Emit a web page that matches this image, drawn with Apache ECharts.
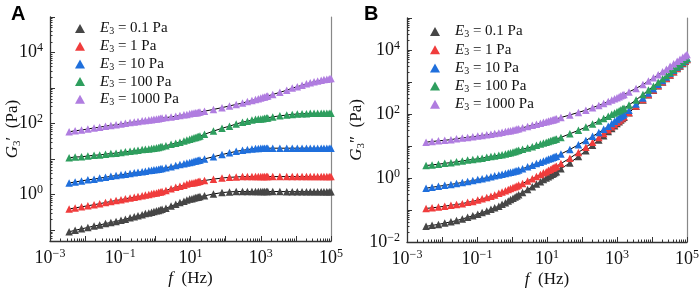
<!DOCTYPE html>
<html>
<head>
<meta charset="utf-8">
<script src="https://cdn.jsdelivr.net/npm/echarts@6/dist/echarts.min.js"></script>
<style>
  html, body { margin: 0; padding: 0; background: #fff; }
  #chart { width: 700px; height: 290px; }
</style>
</head>
<body>
<div id="chart"></div>
<script>
// frequency sweep (Hz), shared by both panels
const freq = [
  0.0035, 0.0052, 0.0079, 0.012, 0.018, 0.026, 0.038, 0.054, 0.076, 0.105, 0.14, 0.19,
  0.25, 0.32, 0.42, 0.52, 0.65, 0.78, 0.91, 1.07, 1.23, 1.38, 1.55,
  2.0, 2.8, 3.8, 5.0, 6.5, 7.9, 9.5, 11, 12.6, 14.1, 15.5, 17, 18.6,
  25, 45, 79, 129, 200, 302, 417, 562, 708, 851, 1000, 1148, 1288, 1445, 1585,
  2200, 3500, 5500, 7900, 11000, 15000, 20000, 25700, 33000, 41700, 52500, 63000, 76000, 89000, 100000
];

// A: storage modulus G3' (Pa)
const gpA01 = [
  0.091, 0.100, 0.110, 0.120, 0.132, 0.141, 0.155, 0.166, 0.178, 0.191, 0.204, 0.224,
  0.240, 0.257, 0.275, 0.295, 0.309, 0.324, 0.339, 0.355, 0.363, 0.380, 0.389,
  0.417, 0.479, 0.537, 0.603, 0.661, 0.708, 0.759, 0.776, 0.813, 0.832, 0.851, 0.871, 0.891,
  0.933, 1.05, 1.15, 1.20, 1.23, 1.23, 1.23, 1.23, 1.23, 1.23, 1.23, 1.23, 1.23, 1.23, 1.23,
  1.23, 1.23, 1.22, 1.22, 1.22, 1.22, 1.22, 1.22, 1.22, 1.22, 1.22, 1.22, 1.22, 1.22, 1.22
];
const gpA1 = [
  0.398, 0.427, 0.457, 0.490, 0.525, 0.562, 0.603, 0.646, 0.692, 0.724, 0.776, 0.813,
  0.851, 0.891, 0.933, 0.977, 1.02, 1.07, 1.10, 1.12, 1.17, 1.20, 1.23,
  1.32, 1.48, 1.62, 1.74, 1.86, 2.00, 2.09, 2.14, 2.19, 2.24, 2.29, 2.34, 2.40,
  2.51, 2.75, 2.95, 3.09, 3.16, 3.24, 3.24, 3.24, 3.24, 3.24, 3.24, 3.24, 3.24, 3.24, 3.24,
  3.24, 3.24, 3.24, 3.24, 3.24, 3.24, 3.24, 3.24, 3.24, 3.24, 3.24, 3.24, 3.24, 3.24, 3.24
];
const gpA10 = [
  2.14, 2.29, 2.45, 2.63, 2.75, 2.95, 3.09, 3.31, 3.47, 3.63, 3.80, 3.98,
  4.17, 4.27, 4.47, 4.57, 4.79, 4.90, 5.01, 5.13, 5.25, 5.37, 5.50,
  5.75, 6.17, 6.61, 7.08, 7.41, 7.76, 8.13, 8.32, 8.71, 8.91, 9.12, 9.33, 9.55,
  10.2, 11.7, 13.5, 15.1, 16.6, 17.8, 18.6, 19.5, 20.0, 20.0, 20.4, 20.4, 20.4, 20.4, 20.4,
  20.4, 20.4, 20.4, 20.4, 20.4, 20.4, 20.4, 20.4, 20.4, 20.4, 20.4, 20.4, 20.4, 20.4, 20.4
];
const gpA100 = [
  11.0, 11.5, 11.7, 12.3, 12.9, 13.2, 13.8, 14.5, 14.8, 15.5, 16.2, 16.6,
  17.4, 17.8, 18.6, 19.1, 19.5, 20.0, 20.4, 20.9, 21.4, 22.4, 22.9,
  24.0, 26.3, 28.2, 30.2, 32.4, 34.7, 36.3, 38.0, 39.8, 40.7, 42.7, 43.7, 44.7,
  50.1, 61.7, 74.1, 85.1, 97.7, 110, 117, 126, 132, 135, 135, 138, 141, 145, 145,
  155, 166, 174, 182, 186, 191, 191, 195, 195, 195, 195, 195, 195, 195, 195
];
const gpA1000 = [
  58.9, 63.1, 66.1, 70.8, 75.9, 79.4, 85.1, 89.1, 93.3, 97.7, 102, 107,
  112, 115, 120, 123, 126, 129, 132, 135, 138, 141, 145,
  148, 155, 162, 170, 178, 182, 191, 195, 200, 204, 204, 209, 214,
  224, 251, 282, 316, 347, 380, 417, 447, 479, 501, 525, 550, 562, 589, 603,
  661, 759, 871, 1000, 1096, 1202, 1318, 1413, 1514, 1585, 1660, 1738, 1778, 1820, 1862
];

// B: loss modulus G3'' (Pa)
const gppB01 = [
  0.0309, 0.0331, 0.0355, 0.0389, 0.0427, 0.0468, 0.0525, 0.0589, 0.0661, 0.0741, 0.0832, 0.0933,
  0.105, 0.117, 0.132, 0.151, 0.170, 0.191, 0.214, 0.234, 0.257, 0.275, 0.302,
  0.355, 0.437, 0.537, 0.646, 0.759, 0.891, 1.00, 1.10, 1.20, 1.32, 1.38, 1.48, 1.58,
  1.95, 2.95, 4.68, 7.08, 10.5, 15.5, 20.9, 28.2, 35.5, 42.7, 50.1, 57.5, 64.6, 72.4, 79.4,
  110, 174, 275, 398, 550, 759, 1000, 1288, 1660, 2089, 2630, 3162, 3802, 4467, 5012
];
const gppB1 = [
  0.112, 0.117, 0.123, 0.132, 0.141, 0.148, 0.158, 0.174, 0.186, 0.204, 0.224, 0.245,
  0.269, 0.295, 0.331, 0.363, 0.398, 0.437, 0.468, 0.501, 0.537, 0.562, 0.603,
  0.676, 0.813, 0.955, 1.12, 1.29, 1.45, 1.58, 1.74, 1.86, 2.00, 2.09, 2.24, 2.34,
  2.82, 4.17, 6.31, 9.12, 13.2, 18.6, 24.5, 32.4, 39.8, 46.8, 55.0, 61.7, 69.2, 75.9, 83.2,
  112, 178, 282, 407, 562, 776, 1023, 1318, 1698, 2138, 2692, 3236, 3890, 4571, 5129
];
const gppB10 = [
  0.479, 0.513, 0.550, 0.589, 0.631, 0.676, 0.724, 0.776, 0.832, 0.891, 0.955, 1.02,
  1.10, 1.17, 1.23, 1.32, 1.38, 1.45, 1.51, 1.58, 1.66, 1.70, 1.78,
  1.95, 2.24, 2.51, 2.82, 3.09, 3.39, 3.63, 3.89, 4.07, 4.27, 4.47, 4.68, 4.79,
  5.62, 7.76, 11.0, 14.8, 20.0, 26.3, 33.1, 41.7, 50.1, 58.9, 67.6, 75.9, 83.2, 91.2, 100,
  132, 204, 316, 457, 617, 851, 1122, 1445, 1862, 2344, 2884, 3467, 4169, 4898, 5495
];
const gppB100 = [
  2.45, 2.57, 2.69, 2.88, 3.02, 3.24, 3.39, 3.63, 3.80, 3.98, 4.17, 4.47,
  4.68, 4.90, 5.13, 5.37, 5.62, 5.89, 6.17, 6.46, 6.76, 7.08, 7.41,
  7.94, 8.71, 9.55, 10.5, 11.5, 12.3, 13.2, 13.8, 14.5, 15.1, 15.5, 16.2, 16.6,
  18.6, 24.0, 30.9, 38.9, 49.0, 60.3, 72.4, 85.1, 97.7, 107, 117, 126, 135, 145, 151,
  191, 275, 407, 562, 741, 977, 1259, 1585, 1995, 2455, 3020, 3631, 4266, 5012, 5623
];
const gppB1000 = [
  13.2, 13.8, 14.5, 15.1, 15.8, 17.0, 17.8, 18.6, 19.5, 20.4, 21.4, 22.4,
  23.4, 24.5, 25.7, 26.9, 28.2, 29.5, 30.2, 31.6, 32.4, 33.9, 34.7,
  37.2, 40.7, 44.7, 47.9, 51.3, 55.0, 57.5, 60.3, 63.1, 64.6, 66.1, 69.2, 70.8,
  77.6, 93.3, 112, 132, 158, 186, 214, 245, 275, 302, 324, 347, 372, 389, 407,
  490, 631, 832, 1072, 1349, 1698, 2089, 2512, 3090, 3715, 4467, 5129, 5888, 6607, 7244
];

const seriesNames = ['0.1 Pa', '1 Pa', '10 Pa', '100 Pa', '1000 Pa'];
const colors = ['#464646', '#f03c3c', '#1f6fdc', '#2e9e5e', '#b07de0'];

// ticks
const xMajorTicks = [1e-3, 1e-2, 1e-1, 1, 10, 100, 1e3, 1e4, 1e5];
const xLabelTicks = [1e-3, 1e-1, 10, 1e3, 1e5];
const yMajorTicksA = [0.1, 1, 10, 100, 1e3, 1e4, 1e5];
const yLabelTicksA = [1, 100, 1e4];
const yMajorTicksB = [0.01, 0.1, 1, 10, 100, 1e3, 1e4, 1e5];
const yLabelTicksB = [0.01, 1, 100, 1e4];

const serif = "'Liberation Serif', 'Times New Roman', serif";
const ink = '#111';
const axisInk = '#333';

// 2..9 x 10^n between lo and hi
const minorTicks = (lo, hi) => {
  const out = [];
  for (let n = -3; n <= 5; n++) {
    for (let k = 2; k <= 9; k++) {
      const v = k * Math.pow(10, n);
      if (v > lo && v < hi) out.push(v);
    }
  }
  return out;
};

const powLabel = (v) => {
  const e = Math.round(Math.log10(v));
  return '{b|10}{s|' + (e < 0 ? '\u2212' + (-e) : e) + '}';
};
const powRich = {
  b: { fontFamily: serif, fontSize: 18, lineHeight: 21, color: ink },
  s: { fontFamily: serif, fontSize: 12, lineHeight: 13, verticalAlign: 'top', color: ink }
};
const nameRich = {
  i: { fontFamily: serif, fontSize: 17, fontStyle: 'italic', lineHeight: 20, color: ink },
  s: { fontFamily: serif, fontSize: 11, lineHeight: 10, verticalAlign: 'bottom', color: ink },
  t: { fontFamily: serif, fontSize: 17, lineHeight: 20, color: ink }
};
const legendRich = {
  g: { width: 10 },
  e: { fontFamily: serif, fontSize: 15, fontStyle: 'italic', lineHeight: 16, color: ink },
  s: { fontFamily: serif, fontSize: 10, lineHeight: 8, verticalAlign: 'bottom', color: ink },
  t: { fontFamily: serif, fontSize: 15, lineHeight: 16, color: ink }
};

const xAxes = (g) => [
  {
    type: 'log', gridIndex: g, position: 'bottom', min: 1e-3, max: 1e5,
    name: '{i|f}{t|  (Hz)}', nameLocation: 'middle', nameGap: 28, nameMoveOverlap: false,
    nameTextStyle: { rich: nameRich },
    axisLine: { onZero: false, lineStyle: { color: axisInk, width: 1.3 } },
    axisTick: { inside: true, length: 5, customValues: xMajorTicks, lineStyle: { color: axisInk } },
    axisLabel: { customValues: xLabelTicks, margin: 7, formatter: powLabel, rich: powRich },
    splitLine: { show: false }
  },
  {
    type: 'log', gridIndex: g, position: 'bottom', min: 1e-3, max: 1e5,
    axisLine: { show: false }, axisLabel: { show: false }, splitLine: { show: false },
    axisTick: { inside: true, length: 2.5, customValues: minorTicks(1e-3, 1e5), lineStyle: { color: axisInk } }
  }
];

const yAxes = (g, min, majors, labels, name, gap) => [
  {
    type: 'log', gridIndex: g, position: 'left', min: min, max: 1e5,
    name: name, nameLocation: 'middle', nameRotate: 90, nameGap: gap, nameMoveOverlap: false,
    nameTextStyle: { rich: nameRich },
    axisLine: { onZero: false, lineStyle: { color: axisInk, width: 1.3 } },
    axisTick: { inside: true, length: 5, customValues: majors, lineStyle: { color: axisInk } },
    axisLabel: { customValues: labels, margin: 7, formatter: powLabel, rich: powRich },
    splitLine: { show: false }
  },
  {
    type: 'log', gridIndex: g, position: 'left', min: min, max: 1e5,
    axisLine: { show: false }, axisLabel: { show: false }, splitLine: { show: false },
    axisTick: { inside: true, length: 2.5, customValues: minorTicks(min, 1e5), lineStyle: { color: axisInk } }
  },
  {
    type: 'log', gridIndex: g, position: 'right', min: min, max: 1e5,
    axisLine: { show: true, onZero: false, lineStyle: { color: '#888', width: 1.2 } },
    axisTick: { show: false }, axisLabel: { show: false }, splitLine: { show: false }
  }
];

const panelSeries = (g, sets) => {
  const out = [];
  sets.forEach((vals, i) => {
    const pts = freq.map((f, j) => [f, vals[j]]);
    out.push({
      name: 'fit', type: 'line', xAxisIndex: 2 * g, yAxisIndex: 3 * g,
      data: pts, symbol: 'none', silent: true, z: 2,
      lineStyle: { color: '#000', width: 1 }
    });
    out.push({
      name: seriesNames[i], type: 'scatter', xAxisIndex: 2 * g, yAxisIndex: 3 * g,
      data: pts, symbol: 'triangle', symbolSize: 7.5, z: 3 + i,
      itemStyle: { color: colors[i], opacity: 1 }
    });
  });
  return out;
};

const legendAt = (left, top, gap) => ({
  orient: 'vertical', left: left, top: top, padding: 0, itemGap: gap,
  itemWidth: 10, itemHeight: 9, icon: 'triangle', selectedMode: false,
  data: seriesNames,
  formatter: (n) => '{g| }{e|E}{s|3}{t| = ' + n + '}',
  textStyle: { rich: legendRich }
});

const chart = echarts.init(document.getElementById('chart'), null, { renderer: 'canvas' });
chart.setOption({
  animation: false,
  backgroundColor: '#fff',
  grid: [
    { left: 50, top: 17, width: 281, height: 224, outerBoundsMode: 'none' },
    { left: 407, top: 18, width: 280, height: 224, outerBoundsMode: 'none' }
  ],
  xAxis: [...xAxes(0), ...xAxes(1)],
  yAxis: [
    ...yAxes(0, 0.05, yMajorTicksA, yLabelTicksA, '{i|G}{s|3}{t|\u2032  (Pa)}', 27),
    ...yAxes(1, 0.01, yMajorTicksB, yLabelTicksB, '{i|G}{s|3}{t|\u2033  (Pa)}', 40)
  ],
  legend: [legendAt(75, 21, 2.2), legendAt(430, 24, 2.7)],
  series: [
    ...panelSeries(0, [gpA01, gpA1, gpA10, gpA100, gpA1000]),
    ...panelSeries(1, [gppB01, gppB1, gppB10, gppB100, gppB1000])
  ],
  graphic: [
    { type: 'text', left: 11, top: 4, style: { text: 'A', font: 'bold 20px "Liberation Sans", Arial, sans-serif', fill: '#000' } },
    { type: 'text', left: 364, top: 4, style: { text: 'B', font: 'bold 20px "Liberation Sans", Arial, sans-serif', fill: '#000' } }
  ]
});

window.addEventListener('resize', () => chart.resize());
</script>
</body>
</html>
